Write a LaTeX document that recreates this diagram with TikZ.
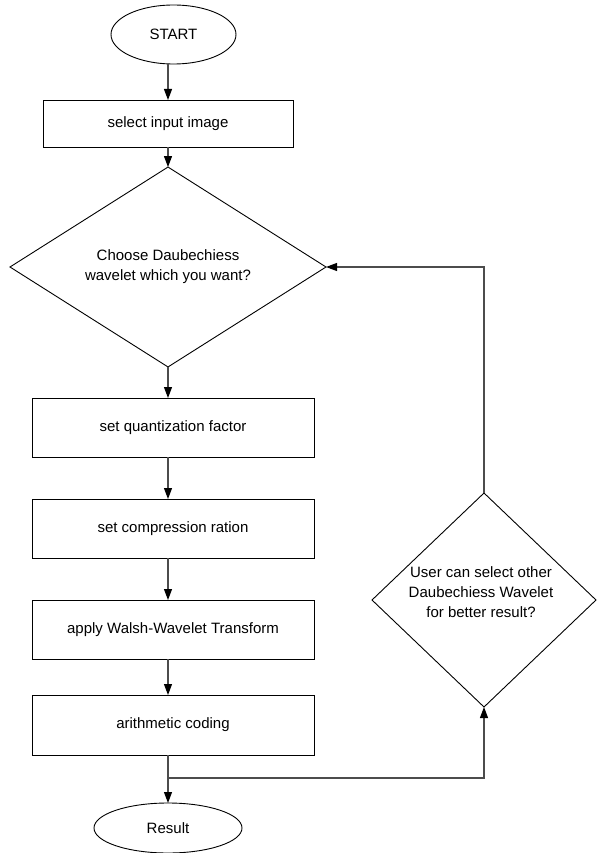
\documentclass[tikz,border=0pt]{standalone}
\usepackage{fontspec}
\setmainfont{Liberation Sans}
\usetikzlibrary{shapes.geometric,arrows.meta}
\begin{document}
\begin{tikzpicture}[x=1pt,y=-1pt,
  every node/.style={inner sep=0pt,outer sep=0pt,font=\fontsize{15}{20}\selectfont,align=center},
  procbox/.style={draw=black,line width=0.9pt,rectangle},
  termnode/.style={draw=black,line width=0.9pt,ellipse},
  decnode/.style={draw=black,line width=0.9pt,diamond},
  arr/.style={draw=black!70,line width=1.1pt,-{Triangle[length=11pt,width=8pt,black]}},
  plainline/.style={draw=black!70,line width=1.1pt}]
\useasboundingbox (0,0) rectangle (599,853);
\node[termnode,minimum width=125pt,minimum height=59pt] (start) at (173.5,34.5) {START};
\node[procbox,minimum width=250pt,minimum height=47pt] (b1) at (168,123.5) {select input image};
\node[decnode,minimum width=316pt,minimum height=190pt] (d1) at (168,267) {Choose Daubechiess\\wavelet which you want?};
\node[procbox,minimum width=282pt,minimum height=59pt] (b2) at (173,427.5) {set quantization factor};
\node[procbox,minimum width=282pt,minimum height=59pt] (b3) at (173,528.5) {set compression ration};
\node[procbox,minimum width=282pt,minimum height=59pt] (b4) at (173,629.5) {apply Walsh-Wavelet Transform};
\node[procbox,minimum width=282pt,minimum height=60pt] (b5) at (173,725) {arithmetic coding};
\node[termnode,minimum width=148pt,minimum height=50pt] (res) at (168,828) {Result};
\node[decnode,minimum width=224pt,minimum height=214pt] (d2) at (484,600) {};
\node (d2t) at (481,592) {User can select other\\Daubechiess Wavelet\\for better result?};
\coordinate (j) at (168,778);
\draw[arr] (start.south -| d1.north) -- (b1.north);
\draw[arr] (b1.south) -- (d1.north);
\draw[arr] (d1.south) -- (b2.north -| d1.south);
\draw[arr] (b2.south -| d1.south) -- (b3.north -| d1.south);
\draw[arr] (b3.south -| d1.south) -- (b4.north -| d1.south);
\draw[arr] (b4.south -| d1.south) -- (b5.north -| d1.south);
\draw[arr] (b5.south -| d1.south) -- (res.north);
\draw[arr] (j) -| (d2.south);
\draw[arr] (d2.north) |- (d1.east);
\end{tikzpicture}
\end{document}
